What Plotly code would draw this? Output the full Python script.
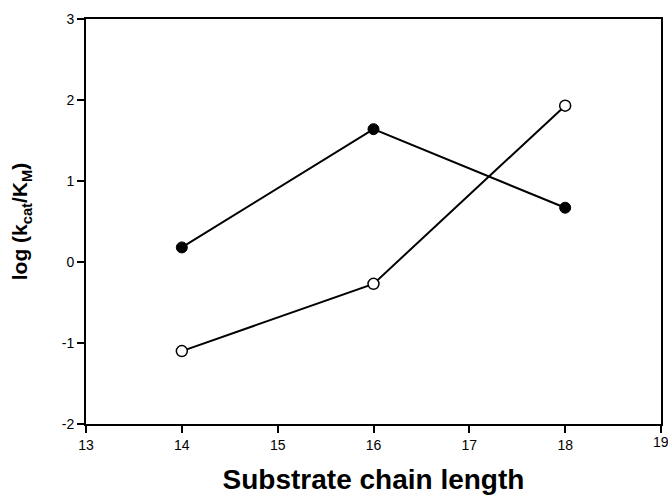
import plotly.graph_objects as go

chain_length = [14, 16, 18]
filled_series = [0.18, 1.64, 0.67]
open_series = [-1.10, -0.27, 1.93]
x_ticks = [13, 14, 15, 16, 17, 18, 19]
y_ticks = [-2, -1, 0, 1, 2, 3]
y_tick_labels = ["-2", "-1", "0", "1", "2", "3"]

fig = go.Figure()
fig.add_trace(go.Scatter(x=chain_length, y=filled_series, mode="lines+markers",
                         line=dict(color="black", width=2),
                         marker=dict(symbol="circle", size=11, color="black",
                                     line=dict(color="black", width=1)),
                         showlegend=False))
fig.add_trace(go.Scatter(x=chain_length, y=open_series, mode="lines+markers",
                         line=dict(color="black", width=2),
                         marker=dict(symbol="circle", size=11, color="white",
                                     line=dict(color="black", width=1.5)),
                         showlegend=False))

tick_font = dict(family="Liberation Sans, Arial", size=14, color="black")
axis_common = dict(showline=True, linecolor="black", linewidth=2, mirror=True,
                   ticks="outside", ticklen=7, tickwidth=1.5, tickcolor="black",
                   showgrid=False, zeroline=False, automargin=False,
                   tickfont=tick_font)

fig.update_xaxes(range=[13, 19], tickvals=x_ticks,
                 title=dict(text="<b>Substrate chain length</b>", standoff=18,
                            font=dict(family="Liberation Sans, Arial", size=28, color="black")),
                 **axis_common)
fig.update_yaxes(range=[-2, 3], tickvals=y_ticks, ticktext=y_tick_labels,
                 title=dict(text="<b>log (k<sub>cat</sub>/K<sub>M</sub>)</b>", standoff=28,
                            font=dict(family="Liberation Sans, Arial", size=21, color="black")),
                 **axis_common)

# last x tick label is cut by the page edge in the reference
fig.add_annotation(x=x_ticks[-1], y=0, xref="x", yref="paper", yanchor="top",
                   xanchor="center", yshift=-8, text=str(x_ticks[-1]),
                   showarrow=False, font=tick_font)

fig.update_layout(width=668, height=500, plot_bgcolor="white", paper_bgcolor="white",
                  margin=dict(l=86, r=7, t=19, b=76))

fig.write_html("out.html", config={"displayModeBar": False},
               post_script="document.body.style.margin='0';document.body.style.overflow='hidden';")
